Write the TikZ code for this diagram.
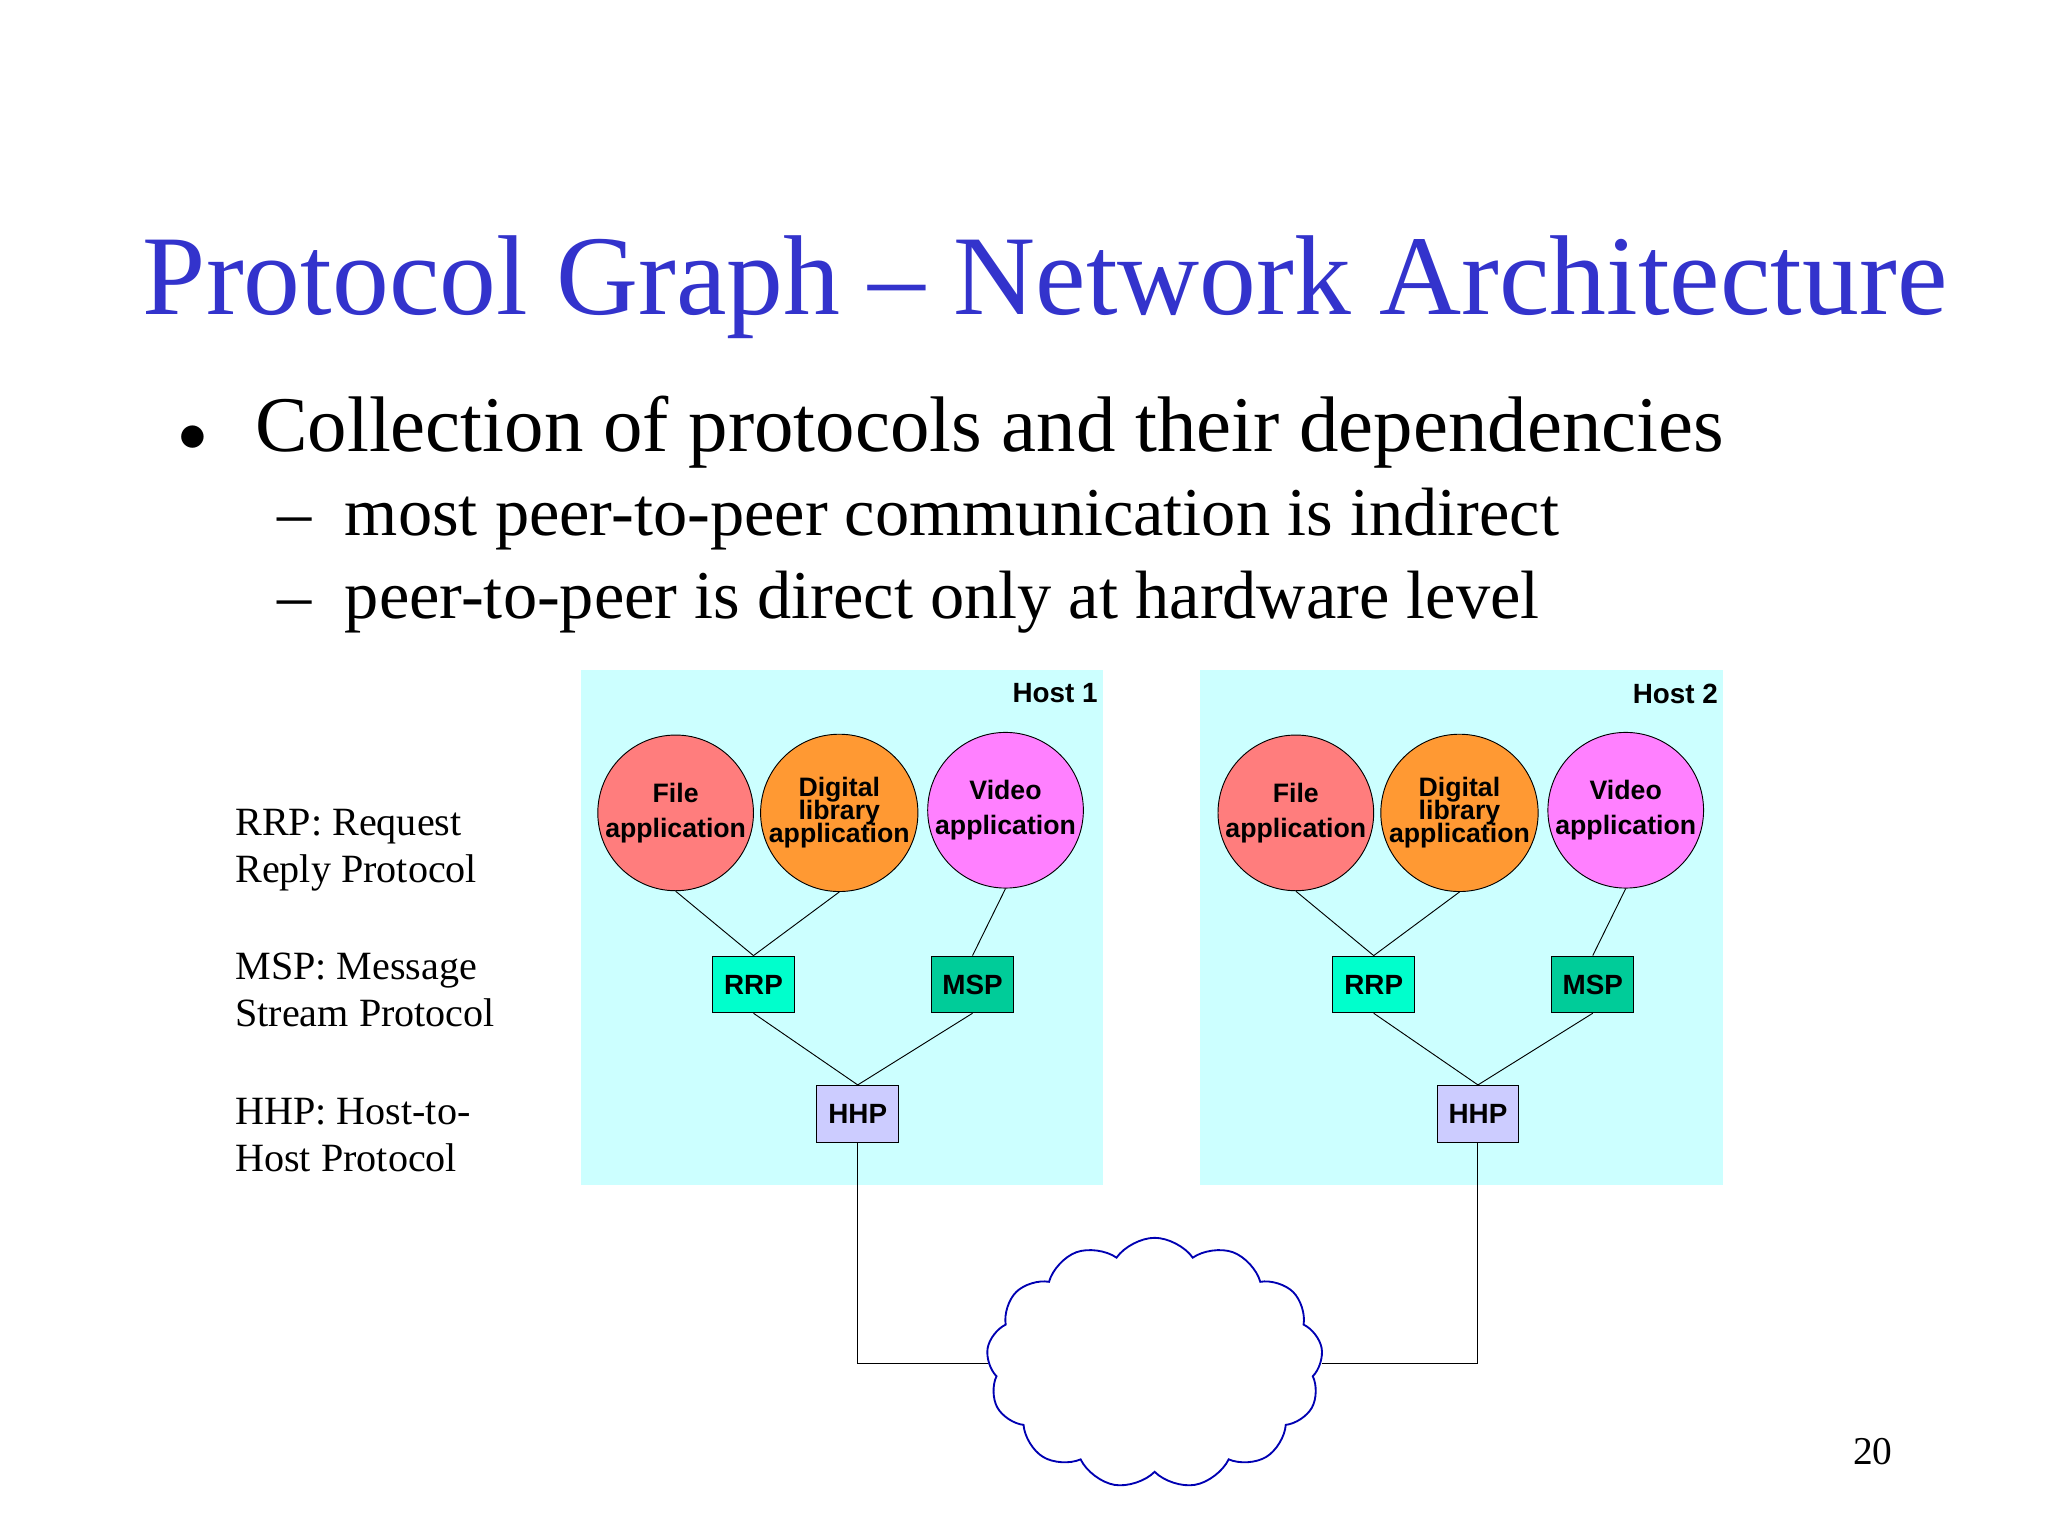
\documentclass[tikz,border=0pt]{standalone}
\usepackage{fontspec}
\setmainfont{Liberation Serif}
\newfontfamily\arial{Liberation Sans}
\usetikzlibrary{shapes.symbols}
\definecolor{hostbg}{RGB}{204,255,255}
\definecolor{titleblue}{RGB}{51,51,204}
\begin{document}
\begin{tikzpicture}[x=0.02cm,y=-0.02cm,
 host/.style={fill=hostbg,draw=none},
 app/.style={circle,draw,minimum size=2.36cm,inner sep=0pt,align=center,font=\arial\bfseries\fontsize{11.5}{11}\selectfont},
 proto/.style={draw,minimum width=1.24cm,minimum height=0.86cm,inner sep=0pt,font=\arial\bfseries\fontsize{12}{12}\selectfont},
 txt/.style={anchor=base west,inner sep=0pt},
 lbl/.style={anchor=base west,inner sep=0pt,align=left,font=\fontsize{17.3}{20.5}\selectfont}]
\useasboundingbox (0,0) rectangle (1552,1164);
\node[txt,anchor=base,text=titleblue,font=\fontsize{49}{49}\selectfont] (title) at (792,238) {Protocol Graph -- Network Architecture};
\node[txt,font=\fontsize{34}{34}\selectfont] (b1) at (135,342) {$\bullet$};
\node[txt,font=\fontsize{34}{34}\selectfont] (t1) at (193,342) {Collection of protocols and their dependencies};
\node[txt,font=\fontsize{29.5}{29.5}\selectfont] (d1) at (210,406) {--};
\node[txt,font=\fontsize{29.5}{29.5}\selectfont] (t2) at (261,406) {most peer-to-peer communication is indirect};
\node[txt,font=\fontsize{29.5}{29.5}\selectfont] (d2) at (210,469) {--};
\node[txt,font=\fontsize{29.5}{29.5}\selectfont] (t3) at (261,469) {peer-to-peer is direct only at hardware level};
\node[lbl] (l1) at (178,669) {RRP: Request\\Reply Protocol};
\node[lbl] (l2) at (178,778) {MSP: Message\\Stream Protocol};
\node[lbl] (l3) at (178,888) {HHP: Host-to-\\Host Protocol};
\node[txt,font=\fontsize{17}{17}\selectfont] (pg) at (1404,1110) {20};
\fill[host] (440,508) rectangle (836,898);
\fill[host] (909,508) rectangle (1306,898);
\node[anchor=north east,font=\arial\bfseries\fontsize{12}{12}\selectfont] (h1) at (838,512) {Host 1};
\node[anchor=north east,font=\arial\bfseries\fontsize{12}{12}\selectfont] (h2) at (1308,512) {Host 2};
\foreach \s/\dx/\dy in {a/0/0,b/470/0}{
 \begin{scope}[shift={(\dx,\dy)}]
 \node[app,fill={rgb,255:red,255;green,125;blue,125}] (\s f) at (512,616) {File\\[4pt]application};
 \node[app,fill={rgb,255:red,255;green,153;blue,51}] (\s d) at (636,616) {Digital\\[-1pt]library\\[-1pt]application};
 \node[app,fill={rgb,255:red,255;green,128;blue,255}] (\s v) at (762,614) {Video\\[4pt]application};
 \node[proto,fill={rgb,255:red,0;green,255;blue,204}] (\s r) at (571,746) {RRP};
 \node[proto,fill={rgb,255:red,0;green,204;blue,153}] (\s m) at (737,746) {MSP};
 \node[proto,fill={rgb,255:red,204;green,204;blue,255}] (\s h) at (650,844) {HHP};
 \end{scope}
 \draw (\s f.south) -- (\s r.north);
 \draw (\s d.south) -- (\s r.north);
 \draw (\s v.south) -- (\s m.north);
 \draw (\s r.south) -- (\s h.north);
 \draw (\s m.south) -- (\s h.north);
}
\node[cloud,cloud puffs=13,cloud puff arc=110,aspect=1.3,draw=blue!70!black,thick,minimum width=5.1cm,minimum height=3.8cm] (net) at (875,1033) {};
\draw (ah.south) |- (net.west);
\draw (bh.south) |- (net.east);
\end{tikzpicture}
\end{document}
